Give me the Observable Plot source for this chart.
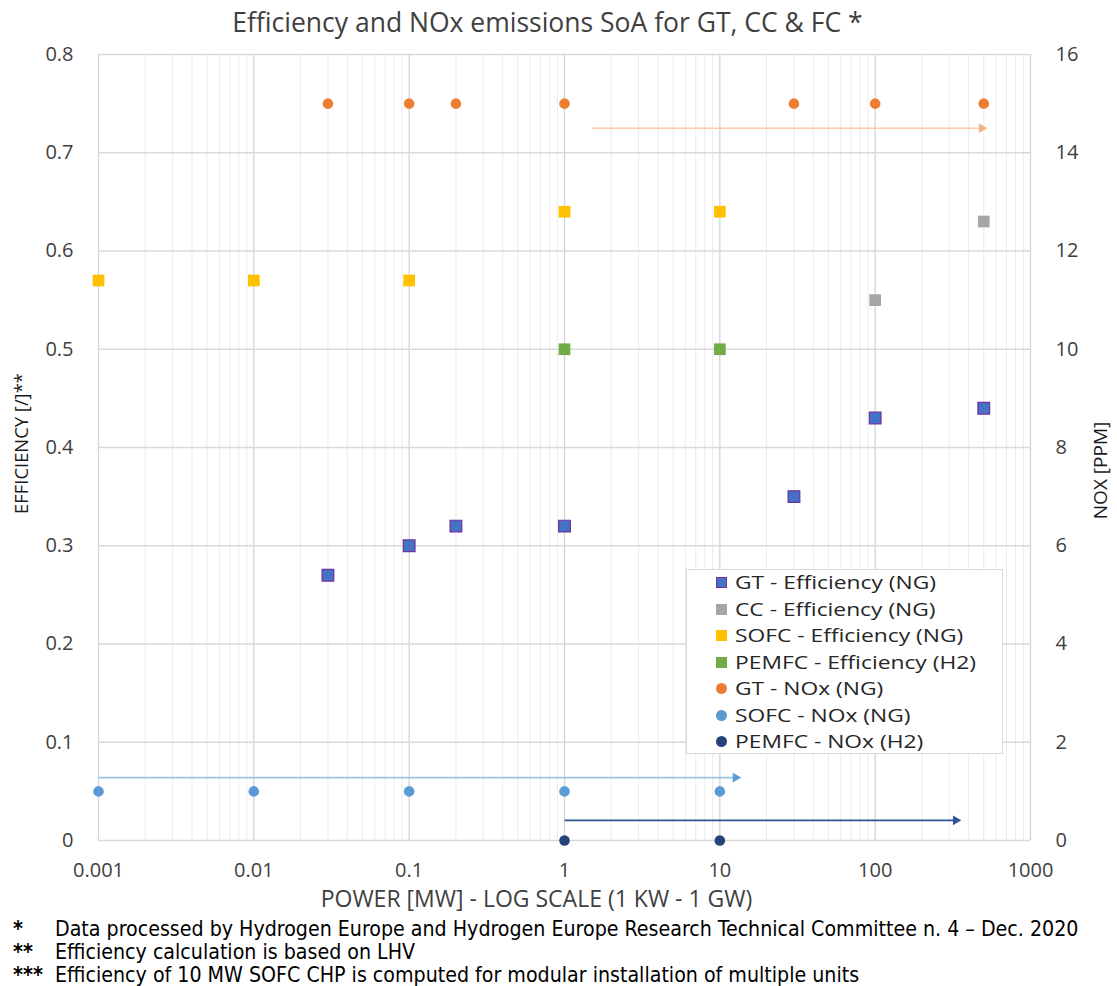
<!DOCTYPE html>
<html>
<head>
<meta charset="utf-8">
<script src="https://cdn.jsdelivr.net/npm/d3@7"></script>
<script src="https://cdn.jsdelivr.net/npm/@observablehq/plot@0.6"></script>
<style>
  body { margin: 0; background: #fff; font-family: "Open Sans", sans-serif; }
  #wrap { position: relative; width: 1117px; height: 986px; overflow: hidden; }
  #chart { position: absolute; left: 0; top: 0; }
  #title { position: absolute; top: 5px; left: 0; width: 1095px; text-align: center; font-size: 26.5px; color: #404040; white-space: nowrap; line-height: 34px; }
  #legend { position: absolute; left: 686px; top: 569px; width: 317px; height: 185px; border: 1.5px solid #d9d9d9; background: #fff; box-sizing: border-box; }
  .row { position: absolute; left: 0; height: 26px; line-height: 26px; font-size: 19px; color: #262626; white-space: nowrap; }
  .sw { position: absolute; left: 29px; top: 8px; width: 11px; height: 11px; box-sizing: border-box; }
  .row span.t { position: absolute; left: 48px; display: inline-block; transform: scaleX(1.2); transform-origin: 0 50%; }
  #notes { position: absolute; left: 0; top: 917px; width: 1117px; font-family: "Liberation Sans Narrow", "DejaVu Sans Condensed", sans-serif; font-size: 21.2px; color: #000; }
  .note { position: absolute; left: 0; height: 23px; line-height: 23px; white-space: nowrap; }
  .note .m { position: absolute; left: 13px; font-weight: bold; }
  .note .x { position: absolute; left: 55px; }
</style>
</head>
<body>
<div id="wrap">
  <div id="chart"></div>
  <div id="title"></div>
  <div id="legend"></div>
  <div id="notes"></div>
</div>
<script>
// ---- texts ----
const chartTitle = "Efficiency and NOx emissions SoA for GT, CC & FC *";
const xAxisLabel = "POWER [MW] - LOG SCALE (1 KW - 1 GW)";
const yAxisLabel = "EFFICIENCY [/]**";
const y2AxisLabel = "NOX [PPM]";
const noteMarks = ["*", "**", "***"];
const noteTexts = [
  "Data processed by Hydrogen Europe and Hydrogen Europe Research Technical Committee n. 4 \u2013 Dec. 2020",
  "Efficiency calculation is based on LHV",
  "Efficiency of 10 MW SOFC CHP is computed for modular installation of multiple units"
];

// ---- ticks ----
const xTicks = [0.001, 0.01, 0.1, 1, 10, 100, 1000];
const xTickLabels = ["0.001", "0.01", "0.1", "1", "10", "100", "1000"];
const yTicks = [0, 0.1, 0.2, 0.3, 0.4, 0.5, 0.6, 0.7, 0.8];
const yTickLabels = ["0", "0.1", "0.2", "0.3", "0.4", "0.5", "0.6", "0.7", "0.8"];
const y2TickLabels = ["0", "2", "4", "6", "8", "10", "12", "14", "16"];
const effMax = 0.8;
const noxMax = 16;

// ---- series ----
const seriesNames = [
  "GT - Efficiency (NG)", "CC - Efficiency (NG)", "SOFC - Efficiency (NG)", "PEMFC - Efficiency (H2)",
  "GT - NOx (NG)", "SOFC - NOx (NG)", "PEMFC - NOx (H2)"
];
const seriesColors = ["#4472C4", "#A5A5A5", "#FFC000", "#70AD47", "#ED7D31", "#5B9BD5", "#264478"];
const seriesStrokes = ["#7030A0", null, null, null, null, null, null];
const seriesShapes = ["square", "square", "square", "square", "circle", "circle", "circle"];
const seriesAxis = ["eff", "eff", "eff", "eff", "nox", "nox", "nox"];

const gtPower = [0.03, 0.1, 0.2, 1, 30, 100, 500];
const gtEfficiency = [0.27, 0.30, 0.32, 0.32, 0.35, 0.43, 0.44];
const ccPower = [100, 500];
const ccEfficiency = [0.55, 0.63];
const sofcPower = [0.001, 0.01, 0.1, 1, 10];
const sofcEfficiency = [0.57, 0.57, 0.57, 0.64, 0.64];
const pemfcPower = [1, 10];
const pemfcEfficiency = [0.50, 0.50];
const gtNoxPower = [0.03, 0.1, 0.2, 1, 30, 100, 500];
const gtNox = [15, 15, 15, 15, 15, 15, 15];
const sofcNoxPower = [0.001, 0.01, 0.1, 1, 10];
const sofcNox = [1, 1, 1, 1, 1];
const pemfcNoxPower = [1, 10];
const pemfcNox = [0, 0];

// arrows (NOx ranges, in ppm)
const arrowFrom = [1.5, 0.001, 1];
const arrowTo = [500, 13, 340];
const arrowLevel = [14.5, 1.28, 0.41];
const arrowColors = ["#F8CBAD", "#9DC3E6", "#2F5597"];
const arrowHeadColors = ["#F4B183", "#5B9BD5", "#2F5597"];

// ---- build tables ----
const seriesPowers = [gtPower, ccPower, sofcPower, pemfcPower, gtNoxPower, sofcNoxPower, pemfcNoxPower];
const seriesValues = [gtEfficiency, ccEfficiency, sofcEfficiency, pemfcEfficiency, gtNox, sofcNox, pemfcNox];
const ratio = noxMax / effMax;
const points = [];
seriesNames.forEach((name, s) => {
  seriesPowers[s].forEach((p, i) => {
    const v = seriesValues[s][i];
    points.push({power: p, value: v, s, y: seriesAxis[s] === "nox" ? v / ratio : v});
  });
});
const effPoints = points.filter(d => seriesShapes[d.s] === "square");
const noxPoints = points.filter(d => seriesShapes[d.s] === "circle");
const arrows = arrowFrom.map((x1, i) => ({x1, x2: arrowTo[i], y: arrowLevel[i] / ratio, i}));
const xTickRows = xTicks.map((v, i) => ({v, label: xTickLabels[i]}));

const minorTicks = [];
xTicks.slice(0, -1).forEach(t => { for (let m = 2; m <= 9; m++) minorTicks.push(t * m); });

const chart = Plot.plot({
  width: 1117,
  height: 905,
  marginLeft: 98,
  marginRight: 87,
  marginTop: 54,
  marginBottom: 65,
  x: {type: "log", domain: [0.001, 1000], axis: null},
  y: {domain: [0, effMax]},
  style: {fontFamily: "Open Sans, sans-serif", fontSize: "20px", color: "#404040", background: "#fff", overflow: "visible"},
  marks: [
    Plot.gridX(minorTicks, {stroke: "#ebebeb", strokeOpacity: 1, strokeWidth: 1}),
    Plot.gridX(xTicks, {stroke: "#d4d4d4", strokeOpacity: 1, strokeWidth: 1.3}),
    Plot.gridY(yTicks, {stroke: "#d9d9d9", strokeOpacity: 1, strokeWidth: 1.3}),
    Plot.text(xTickRows, {x: "v", text: "label", frameAnchor: "bottom", dy: 36, fill: "#404040", fontSize: 20}),
    Plot.axisY(yTicks, {anchor: "left", tickSize: 0, tickPadding: 25, tickFormat: (d, i) => yTickLabels[i], label: null, fill: "#404040", fontSize: 20}),
    Plot.axisY(yTicks, {anchor: "right", tickSize: 0, tickPadding: 25, tickFormat: (d, i) => y2TickLabels[i], label: null, fill: "#404040", textAnchor: "start", fontSize: 20}),
    Plot.text([xAxisLabel], {frameAnchor: "bottom", dx: -28, dy: 66, fill: "#404040", fontSize: 23, textAnchor: "middle"}),
    Plot.text([yAxisLabel], {frameAnchor: "left", dx: -76, dy: -4, rotate: -90, textAnchor: "middle", fill: "#1a1a1a", fontSize: 18.4}),
    Plot.text([y2AxisLabel], {frameAnchor: "right", dx: 70, dy: 23, rotate: -90, textAnchor: "middle", fill: "#1a1a1a", fontSize: 19}),
    Plot.link(arrows, {x1: "x1", x2: "x2", y1: "y", y2: "y", stroke: d => arrowColors[d.i], strokeWidth: 1.6}),
    Plot.dot(arrows, {x: "x2", y: "y", symbol: "triangle", rotate: 90, r: 3.6, fill: d => arrowHeadColors[d.i], stroke: "none", dx: -2}),
    Plot.dot(noxPoints, {x: "power", y: "y", symbol: "circle", r: 5.3, fill: d => seriesColors[d.s], stroke: "none"}),
    Plot.dot(effPoints, {x: "power", y: "y", symbol: "square", r: 6.6, fill: d => seriesColors[d.s],
      stroke: d => seriesStrokes[d.s] || "none", strokeWidth: 1.2})
  ]
});
document.getElementById("chart").appendChild(chart);
document.getElementById("title").textContent = chartTitle;

// legend
const legend = document.getElementById("legend");
seriesNames.forEach((name, s) => {
  const row = document.createElement("div");
  row.className = "row";
  row.style.top = (-1 + s * 26.5) + "px";
  const sw = document.createElement("div");
  sw.className = "sw";
  sw.style.background = seriesColors[s];
  if (seriesStrokes[s]) sw.style.border = "1.5px solid " + seriesStrokes[s];
  if (seriesShapes[s] === "circle") sw.style.borderRadius = "50%";
  row.appendChild(sw);
  const t = document.createElement("span");
  t.className = "t";
  t.textContent = name;
  row.appendChild(t);
  legend.appendChild(row);
});

// notes
const notes = document.getElementById("notes");
noteTexts.forEach((txt, i) => {
  const row = document.createElement("div");
  row.className = "note";
  row.style.top = (i * 23) + "px";
  const m = document.createElement("span"); m.className = "m"; m.textContent = noteMarks[i];
  const x = document.createElement("span"); x.className = "x"; x.textContent = txt;
  row.appendChild(m); row.appendChild(x);
  notes.appendChild(row);
});
</script>
</body>
</html>
